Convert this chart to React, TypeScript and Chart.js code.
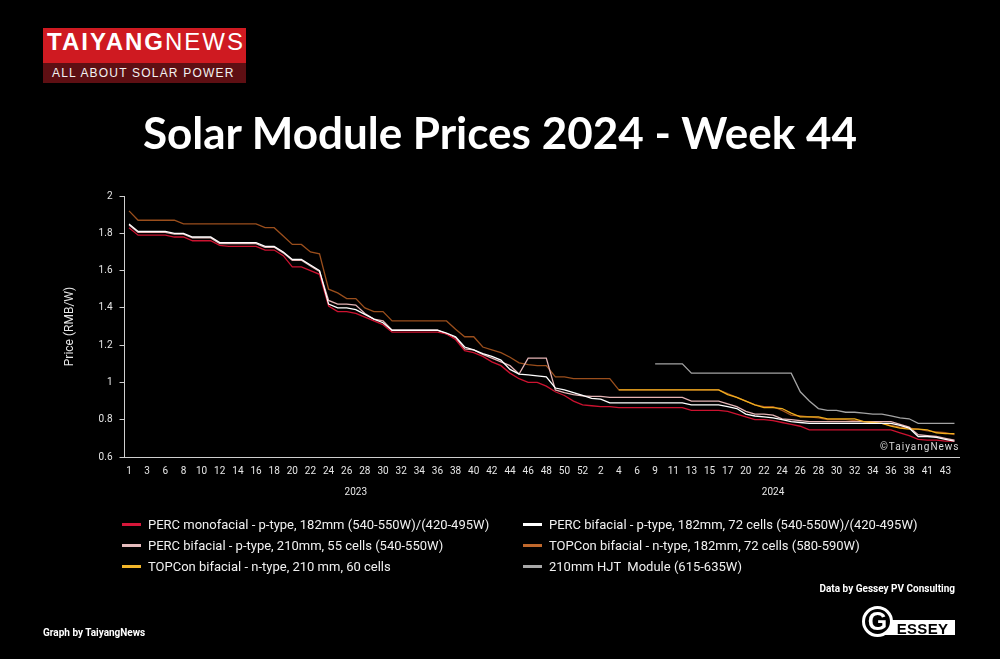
import React, { useEffect, useRef } from "react";
import { Chart, registerables } from "chart.js";

Chart.register(...registerables);

// ---- categories (ISO weeks) ----
const weeks2023 = [
  "1", "2", "3", "5", "6", "7", "8", "9", "10", "11", "12", "13", "14", "15", "16", "17", "18",
  "19", "20", "21", "22", "23", "24", "25", "26", "27", "28", "29", "30", "31", "32", "33", "34",
  "35", "36", "37", "38", "39", "40", "41", "42", "43", "44", "45", "46", "47", "48", "49", "50",
  "51", "52",
];
const weeks2024 = [
  "1", "2", "3", "4", "5", "6", "8", "9", "10", "11", "12", "13", "14", "15", "16", "17", "19",
  "20", "21", "22", "23", "24", "25", "26", "27", "28", "29", "30", "31", "32", "33", "34", "35",
  "36", "37", "38", "40", "41", "42", "43", "44",
];
const years = ["2023", "2024"];

// ---- series (RMB/W) ----
const percMono = [
  1.83, 1.79, 1.79, 1.79, 1.79, 1.78, 1.78, 1.76, 1.76, 1.76,
  1.735, 1.73, 1.73, 1.73, 1.73, 1.71, 1.71, 1.68, 1.62, 1.62,
  1.6, 1.58, 1.41, 1.38, 1.38, 1.37, 1.35, 1.33, 1.31, 1.27,
  1.27, 1.27, 1.27, 1.27, 1.27, 1.26, 1.23, 1.17, 1.16, 1.14,
  1.11, 1.09, 1.05, 1.02, 1.0, 1.0, 0.98, 0.95, 0.93, 0.9,
  0.88, 0.875, 0.87, 0.87, 0.865, 0.865, 0.865, 0.865, 0.865, 0.865,
  0.865, 0.865, 0.85, 0.85, 0.85, 0.85, 0.845, 0.83, 0.815, 0.8,
  0.8, 0.795, 0.785, 0.775, 0.765, 0.745, 0.745, 0.745, 0.745, 0.745,
  0.745, 0.745, 0.745, 0.745, 0.745, 0.73, 0.715, 0.695, 0.69, 0.69,
  0.685, 0.685,
];
const percBifacial182 = [
  1.85, 1.81, 1.81, 1.81, 1.81, 1.8, 1.8, 1.78, 1.78, 1.78,
  1.75, 1.75, 1.75, 1.75, 1.75, 1.73, 1.73, 1.7, 1.66, 1.66,
  1.63, 1.6, 1.42, 1.4, 1.4, 1.39, 1.365, 1.34, 1.32, 1.28,
  1.28, 1.28, 1.28, 1.28, 1.28, 1.265, 1.245, 1.19, 1.175, 1.155,
  1.14, 1.12, 1.07, 1.045, 1.04, 1.035, 1.03, 0.97, 0.96, 0.945,
  0.93, 0.915, 0.91, 0.89, 0.89, 0.89, 0.89, 0.89, 0.89, 0.89,
  0.89, 0.89, 0.88, 0.88, 0.88, 0.88, 0.87, 0.86, 0.83, 0.82,
  0.815, 0.81, 0.8, 0.79, 0.785, 0.78, 0.78, 0.78, 0.78, 0.78,
  0.78, 0.78, 0.78, 0.78, 0.78, 0.77, 0.755, 0.71, 0.71, 0.705,
  0.695, 0.685,
];
const percBifacial210 = [
  1.845, 1.805, 1.805, 1.805, 1.805, 1.795, 1.795, 1.775, 1.775, 1.775,
  1.745, 1.745, 1.745, 1.745, 1.745, 1.725, 1.725, 1.695, 1.655, 1.655,
  1.625, 1.595, 1.44, 1.42, 1.42, 1.415, 1.37, 1.34, 1.33, 1.28,
  1.28, 1.28, 1.28, 1.28, 1.28, 1.26, 1.24, 1.18, 1.175, 1.15,
  1.13, 1.11, 1.09, 1.045, 1.13, 1.13, 1.13, 0.96, 0.945, 0.935,
  0.928, 0.925, 0.925, 0.92, 0.92, 0.92, 0.92, 0.92, 0.92, 0.92,
  0.92, 0.92, 0.9, 0.9, 0.9, 0.9, 0.885, 0.87, 0.845, 0.83,
  0.83, 0.825, 0.805, 0.8, 0.795, 0.79, 0.79, 0.79, 0.79, 0.79,
  0.79, 0.79, 0.79, 0.79, 0.79, 0.775, 0.76, 0.72, 0.715, 0.71,
  0.7, 0.69,
];
const topcon182 = [
  1.92, 1.87, 1.87, 1.87, 1.87, 1.87, 1.85, 1.85, 1.85, 1.85,
  1.85, 1.85, 1.85, 1.85, 1.85, 1.83, 1.83, 1.785, 1.74, 1.74,
  1.7, 1.69, 1.5, 1.48, 1.45, 1.45, 1.4, 1.38, 1.38, 1.33,
  1.33, 1.33, 1.33, 1.33, 1.33, 1.33, 1.285, 1.245, 1.245, 1.19,
  1.175, 1.16, 1.135, 1.105, 1.095, 1.09, 1.09, 1.03, 1.03, 1.02,
  1.02, 1.02, 1.02, 1.02, 0.96, 0.96, 0.96, 0.96, 0.96, 0.96,
  0.96, 0.96, 0.96, 0.96, 0.96, 0.96, 0.94, 0.92, 0.9, 0.88,
  0.87, 0.87, 0.85, 0.825, 0.82, 0.815, 0.81, 0.8, 0.8, 0.8,
  0.795, 0.79, 0.785, 0.78, 0.77, 0.76, 0.755, 0.75, 0.74, 0.735,
  0.73, 0.72,
];
const topcon210 = [
  null, null, null, null, null, null, null, null, null, null,
  null, null, null, null, null, null, null, null, null, null,
  null, null, null, null, null, null, null, null, null, null,
  null, null, null, null, null, null, null, null, null, null,
  null, null, null, null, null, null, null, null, null, null,
  null, null, null, null, 0.96, 0.96, 0.96, 0.96, 0.96, 0.96,
  0.96, 0.96, 0.96, 0.96, 0.96, 0.96, 0.935, 0.92, 0.9, 0.88,
  0.865, 0.865, 0.86, 0.835, 0.815, 0.815, 0.815, 0.805, 0.805, 0.805,
  0.805, 0.79, 0.785, 0.78, 0.765, 0.755, 0.75, 0.75, 0.745, 0.73,
  0.725, 0.725,
];
const hjt210 = [
  null, null, null, null, null, null, null, null, null, null,
  null, null, null, null, null, null, null, null, null, null,
  null, null, null, null, null, null, null, null, null, null,
  null, null, null, null, null, null, null, null, null, null,
  null, null, null, null, null, null, null, null, null, null,
  null, null, null, null, null, null, null, null, 1.1, 1.1,
  1.1, 1.1, 1.05, 1.05, 1.05, 1.05, 1.05, 1.05, 1.05, 1.05,
  1.05, 1.05, 1.05, 1.05, 0.95, 0.9, 0.86, 0.85, 0.85, 0.84,
  0.84, 0.835, 0.83, 0.83, 0.82, 0.81, 0.805, 0.78, 0.78, 0.78,
  0.78, 0.78,
];

const seriesNames = [
  "PERC monofacial - p-type, 182mm (540-550W)/(420-495W)",
  "PERC bifacial - p-type, 182mm, 72 cells (540-550W)/(420-495W)",
  "PERC bifacial - p-type, 210mm, 55 cells (540-550W)",
  "TOPCon bifacial - n-type, 182mm, 72 cells (580-590W)",
  "TOPCon bifacial - n-type, 210 mm, 60 cells",
  "210mm HJT  Module (615-635W)",
];
const seriesColors = ["#cc1230", "#ffffff", "#e3b3b4", "#9a4e1c", "#f0ae1e", "#a3a3a3"];
const legendColors = ["#d6173a", "#ffffff", "#e6bcbd", "#c0682c", "#f2b62a", "#a8a8a8"];
const seriesData = [percMono, percBifacial182, percBifacial210, topcon182, topcon210, hjt210];
// drawing priority: lower = drawn on top
const seriesOrder = [3, 1, 4, 5, 2, 6];

const yMin = 0.6;
const yMax = 2;
const yStep = 0.2;

const AXIS_COLOR = "#cfcfcf";
const TEXT_COLOR = "#e6e6e6";
const FONT = "Roboto, 'Noto Sans', sans-serif";

export default function App() {
  const canvasRef = useRef<HTMLCanvasElement | null>(null);

  useEffect(() => {
    document.body.style.margin = "0";
    document.body.style.background = "#000";
    const canvas = canvasRef.current;
    if (!canvas) return;
    const labels = [...weeks2023, ...weeks2024];
    const yearCounts = [weeks2023.length, weeks2024.length];

    const yearPlugin = {
      id: "yearLabels",
      afterDraw(chart: any) {
        const { ctx, chartArea } = chart;
        const xs = chart.scales.x;
        ctx.save();
        ctx.fillStyle = TEXT_COLOR;
        ctx.font = `10px ${FONT}`;
        ctx.textAlign = "center";
        ctx.textBaseline = "middle";
        let start = 0;
        years.forEach((y, i) => {
          const end = start + yearCounts[i] - 1;
          const cx = (xs.getPixelForValue(start) + xs.getPixelForValue(end)) / 2;
          ctx.fillText(y, cx, chartArea.bottom + 35);
          start = end + 1;
        });
        ctx.restore();
      },
    };

    const chart = new Chart(canvas, {
      type: "line",
      data: {
        labels,
        datasets: seriesData.map((d, i) => ({
          label: seriesNames[i],
          data: d,
          borderColor: seriesColors[i],
          backgroundColor: seriesColors[i],
          borderWidth: 1.3,
          pointRadius: 0,
          tension: 0,
          spanGaps: false,
          order: seriesOrder[i],
        })),
      },
      options: {
        animation: false,
        responsive: false,
        maintainAspectRatio: false,
        layout: { padding: { left: 59, top: 196, right: 41, bottom: 0 } },
        plugins: { legend: { display: false }, tooltip: { enabled: false } },
        scales: {
          x: {
            type: "category",
            offset: true,
            grid: { display: true, drawOnChartArea: false, drawTicks: false, color: "transparent" },
            border: { display: true, color: AXIS_COLOR, width: 1 },
            ticks: {
              autoSkip: false,
              maxRotation: 0,
              minRotation: 0,
              padding: 8,
              color: TEXT_COLOR,
              font: { family: FONT, size: 10 },
              callback: (_v: any, i: number) => (i % 2 === 0 ? labels[i] : ""),
            },
            afterFit: (s: any) => {
              s.height = 202;
            },
          },
          y: {
            min: yMin,
            max: yMax,
            ticks: {
              stepSize: yStep,
              color: TEXT_COLOR,
              padding: 7,
              font: { family: FONT, size: 10 },
              callback: (v: any) => String(Number(Number(v).toFixed(1))),
            },
            grid: { drawOnChartArea: false, drawTicks: true, tickLength: 5, color: AXIS_COLOR },
            border: { display: true, color: AXIS_COLOR, width: 1 },
            title: {
              display: true,
              text: "Price (RMB/W)",
              color: TEXT_COLOR,
              font: { family: FONT, size: 12 },
              padding: { top: 4, bottom: 4 },
            },
            afterFit: (s: any) => {
              s.width = 65.5;
            },
          },
        },
      },
      plugins: [yearPlugin],
    });
    return () => chart.destroy();
  }, []);

  const legendRows = [0, 1, 2];
  const abs = (o: React.CSSProperties): React.CSSProperties => ({ position: "absolute", ...o });

  return (
    <div style={{ position: "absolute", left: 0, top: 0, width: 1000, height: 659, background: "#000", overflow: "hidden", fontFamily: FONT }}>
      <canvas ref={canvasRef} width={1000} height={659} style={abs({ left: 0, top: 0, width: 1000, height: 659 })} />

      {/* logo */}
      <div style={abs({ left: 43, top: 28, width: 203, height: 35, background: "#cf1a21" })}>
        <div style={abs({ left: 4, top: 2, lineHeight: 1, fontSize: 24, color: "#fff", fontFamily: "'Liberation Sans', Arial, sans-serif", letterSpacing: 2, whiteSpace: "nowrap" })}>
          <span style={{ fontWeight: 700 }}>TAIYANG</span>
          <span style={{ fontWeight: 400 }}>NEWS</span>
        </div>
      </div>
      <div style={abs({ left: 43, top: 63, width: 203, height: 20, background: "#5e0f13" })}>
        <div style={abs({ left: 9, top: 4, lineHeight: 1, fontSize: 12, color: "#f2f2f2", fontFamily: "'Liberation Sans', Arial, sans-serif", letterSpacing: 1.2, whiteSpace: "nowrap" })}>
          ALL ABOUT SOLAR POWER
        </div>
      </div>

      {/* title */}
      <div style={abs({ left: 0, width: 1000, top: 110, textAlign: "center", fontFamily: "Lato, sans-serif", fontWeight: 700, fontSize: 44, lineHeight: 1, color: "#fff", whiteSpace: "nowrap" })}>
        Solar Module Prices 2024 - Week 44
      </div>

      {/* watermark */}
      <div style={abs({ left: 880, top: 442, fontSize: 10, lineHeight: 1, color: "#d9d9d9", letterSpacing: 1, whiteSpace: "nowrap" })}>
        ©TaiyangNews
      </div>

      {/* legend */}
      {legendRows.map((r) =>
        [0, 1].map((c) => {
          const i = r * 2 + c;
          const left = c === 0 ? 122 : 523;
          const top = 514 + r * 21;
          return (
            <div key={i} style={abs({ left, top, height: 21, display: "flex", alignItems: "center", whiteSpace: "pre" })}>
              <div style={{ width: 19, height: 2.5, background: legendColors[i], marginRight: 7 }} />
              <span style={{ fontSize: 13, color: "#f0f0f0", lineHeight: 1 }}>{seriesNames[i]}</span>
            </div>
          );
        })
      )}

      {/* credits */}
      <div style={abs({ right: 45, top: 584, fontSize: 10, fontWeight: 700, lineHeight: 1, color: "#fff", whiteSpace: "nowrap" })}>
        Data by Gessey PV Consulting
      </div>
      <div style={abs({ left: 43, top: 628, fontSize: 10, fontWeight: 700, lineHeight: 1, color: "#fff", whiteSpace: "nowrap" })}>
        Graph by TaiyangNews
      </div>

      {/* Gessey logo */}
      <div style={abs({ left: 884, top: 620, width: 71, height: 15, background: "#fff" })}>
        <div style={abs({ left: 6, width: 65, top: 0.5, textAlign: "center", fontSize: 15, fontWeight: 700, lineHeight: 1, color: "#000", fontFamily: "'Liberation Sans', Arial, sans-serif", letterSpacing: 0.3 })}>
          ESSEY
        </div>
      </div>
      <div style={abs({ left: 862, top: 606, width: 25, height: 25, borderRadius: "50%", border: "3px solid #fff", background: "#000", display: "flex", alignItems: "center", justifyContent: "center" })}>
        <span style={{ fontSize: 25, fontWeight: 700, color: "#fff", lineHeight: 1, fontFamily: "'Liberation Sans', Arial, sans-serif" }}>G</span>
      </div>
    </div>
  );
}
